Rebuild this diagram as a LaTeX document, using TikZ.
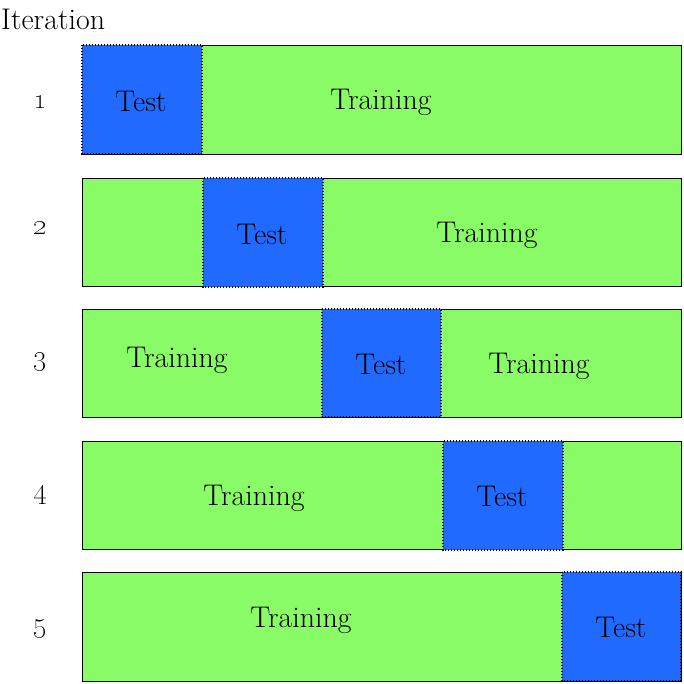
\documentclass[tikz,border=0pt]{standalone}
\begin{document}
\begin{tikzpicture}[x=1bp,y=-1bp,
  fold/.style={draw=black,line width=0.9bp,fill=trgreen},
  testbox/.style={draw=black,dash pattern=on 1.3bp off 1.7bp,line width=1.1bp,fill=tsblue},
  lbl/.style={font=\fontsize{30}{34}\selectfont,inner sep=0pt},
  num/.style={font=\fontsize{32}{34}\selectfont,inner sep=0pt}]
\definecolor{trgreen}{HTML}{88FB66}
\definecolor{tsblue}{HTML}{216AFF}
\useasboundingbox (0,0) rectangle (684,684);
\node[lbl,anchor=west] (iter) at (1,19) {Iteration};
% row 1
\draw[fold] (82,45) rectangle (681,154);
\draw[testbox] (82,45) rectangle (202,154);
\node[num] (n1) at (40,102) {\oldstylenums{1}};
\node[lbl] (t1) at (141,101) {Test};
\node[lbl] (r1) at (381,102) {Training};
% row 2
\draw[fold] (82,178) rectangle (681,286);
\draw[testbox] (203,178) rectangle (323,287);
\node[num] (n2) at (40,228) {\oldstylenums{2}};
\node[lbl] (t2) at (262,234) {Test};
\node[lbl] (r2) at (487,235) {Training};
% row 3
\draw[fold] (82,309) rectangle (681,417);
\draw[testbox] (322,309) rectangle (441,417);
\node[num] (n3) at (40,362) {\oldstylenums{3}};
\node[lbl] (t3) at (381,364) {Test};
\node[lbl] (r3a) at (177,360) {Training};
\node[lbl] (r3b) at (539,366) {Training};
% row 4
\draw[fold] (82,441) rectangle (681,549);
\draw[testbox] (443,441) rectangle (563,550);
\node[num] (n4) at (40,495) {\oldstylenums{4}};
\node[lbl] (t4) at (502,496) {Test};
\node[lbl] (r4) at (254,498) {Training};
% row 5
\draw[fold] (82,572) rectangle (681,681);
\draw[testbox] (562,572) rectangle (681,681);
\node[num] (n5) at (40,629) {\oldstylenums{5}};
\node[lbl] (t5) at (621,627) {Test};
\node[lbl] (r5) at (301,620) {Training};
\end{tikzpicture}
\end{document}
